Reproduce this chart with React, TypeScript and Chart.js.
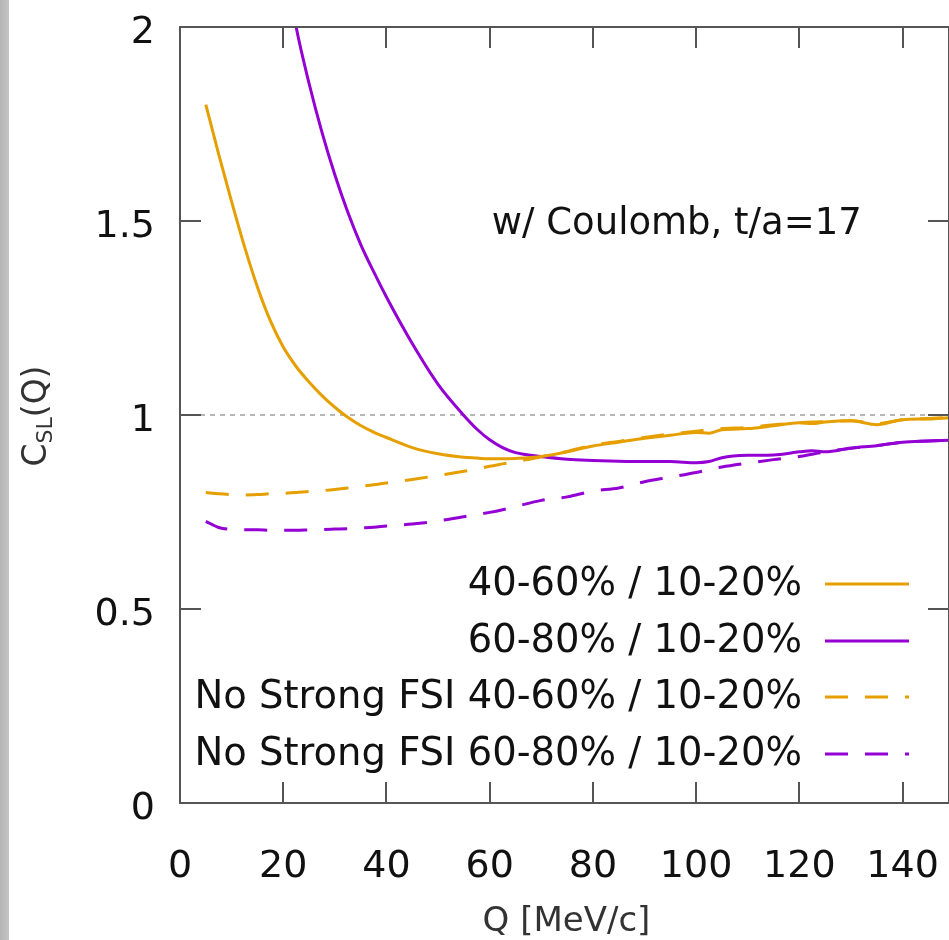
import React, { useEffect, useRef } from "react";
import { Chart, registerables } from "chart.js";

Chart.register(...registerables);

// ---- data ----
const Q = [5, 7.5, 10, 12.5, 15, 17.5, 20, 22.5, 25, 27.5, 30, 32.5, 35, 37.5, 40, 45, 50, 55, 57.5, 60, 62.5, 65, 70, 75, 80, 85, 90, 95, 100, 102.5, 105, 110, 115, 120, 122.5, 125, 130, 135, 140, 145, 149];

const C_40_60 = [1.80, 1.672, 1.55, 1.434, 1.33, 1.243, 1.175, 1.125, 1.085, 1.05, 1.02, 0.994, 0.973, 0.956, 0.942, 0.916, 0.900, 0.891, 0.889, 0.887, 0.887, 0.888, 0.893, 0.905, 0.920, 0.930, 0.940, 0.948, 0.955, 0.953, 0.962, 0.965, 0.972, 0.980, 0.978, 0.982, 0.985, 0.975, 0.988, 0.990, 0.993];

const C_60_80 = [4.6, 4.0, 3.5, 3.05, 2.68, 2.41, 2.19, 2.0, 1.855, 1.729, 1.619, 1.523, 1.44, 1.37, 1.304, 1.184, 1.079, 0.999, 0.964, 0.936, 0.916, 0.903, 0.893, 0.886, 0.883, 0.881, 0.880, 0.880, 0.877, 0.880, 0.890, 0.896, 0.897, 0.905, 0.908, 0.905, 0.915, 0.921, 0.930, 0.933, 0.935];

const NS_40_60 = [0.800, 0.797, 0.795, 0.794, 0.795, 0.797, 0.798, 0.800, 0.803, 0.805, 0.808, 0.812, 0.816, 0.820, 0.825, 0.834, 0.844, 0.855, 0.861, 0.868, 0.874, 0.880, 0.892, 0.906, 0.922, 0.932, 0.942, 0.951, 0.958, 0.962, 0.965, 0.968, 0.975, 0.980, 0.982, 0.983, 0.985, 0.978, 0.988, 0.991, 0.994];

const NS_60_80 = [0.726, 0.71, 0.705, 0.704, 0.704, 0.703, 0.703, 0.703, 0.704, 0.705, 0.706, 0.707, 0.709, 0.711, 0.714, 0.719, 0.727, 0.738, 0.743, 0.749, 0.756, 0.764, 0.780, 0.789, 0.804, 0.812, 0.828, 0.840, 0.852, 0.859, 0.866, 0.876, 0.885, 0.893, 0.899, 0.905, 0.914, 0.921, 0.930, 0.933, 0.935];

const LABELS = [
  "40-60% / 10-20%",
  "60-80% / 10-20%",
  "No Strong FSI 40-60% / 10-20%",
  "No Strong FSI 60-80% / 10-20%",
];

const X_TICKS = [0, 20, 40, 60, 80, 100, 120, 140];
const X_TICK_LABELS = ["0", "20", "40", "60", "80", "100", "120", "140"];
const Y_TICKS = [0, 0.5, 1, 1.5, 2];
const Y_TICK_LABELS = ["0", "0.5", "1", "1.5", "2"];
const ANNOTATION = "w/ Coulomb, t/a=17";
const X_TITLE = "Q [MeV/c]";

const ORANGE = "#e69f00";
const PURPLE = "#9400d3";
const FONT = "'DejaVu Sans', Verdana, sans-serif";
const DASH = [23, 17];

const toPoints = (ys: number[]) => Q.map((q, i) => ({ x: q, y: ys[i] }));

const overlay = {
  id: "overlay",
  beforeDatasetsDraw(chart: any) {
    const { ctx, chartArea: a, scales } = chart;
    const py = scales.y.getPixelForValue(1);
    ctx.save();
    ctx.strokeStyle = "#a0a0a0";
    ctx.lineWidth = 1.5;
    ctx.setLineDash([5, 5]);
    ctx.beginPath();
    ctx.moveTo(a.left, py);
    ctx.lineTo(a.right, py);
    ctx.stroke();
    ctx.restore();
  },
  afterDatasetsDraw(chart: any) {
    const { ctx, chartArea: a, scales } = chart;
    const xs = scales.x;
    const ys = scales.y;
    ctx.save();
    // border
    ctx.strokeStyle = "#555";
    ctx.lineWidth = 2;
    ctx.setLineDash([]);
    ctx.strokeRect(a.left, a.top, a.right - a.left, a.bottom - a.top);
    // inward ticks (mirrored)
    const TL = 21;
    ctx.beginPath();
    X_TICKS.forEach((v) => {
      const px = Math.round(xs.getPixelForValue(v));
      ctx.moveTo(px, a.bottom);
      ctx.lineTo(px, a.bottom - TL);
      ctx.moveTo(px, a.top);
      ctx.lineTo(px, a.top + TL);
    });
    Y_TICKS.forEach((v) => {
      const py = Math.round(ys.getPixelForValue(v));
      ctx.moveTo(a.left, py);
      ctx.lineTo(a.left + TL, py);
      ctx.moveTo(a.right, py);
      ctx.lineTo(a.right - TL, py);
    });
    ctx.stroke();

    // tick labels
    ctx.fillStyle = "#111";
    ctx.font = `38px ${FONT}`;
    ctx.textBaseline = "alphabetic";
    ctx.textAlign = "center";
    X_TICKS.forEach((v, i) => {
      ctx.fillText(X_TICK_LABELS[i], xs.getPixelForValue(v), a.bottom + 74);
    });
    ctx.textAlign = "right";
    Y_TICKS.forEach((v, i) => {
      ctx.fillText(Y_TICK_LABELS[i], a.left - 25, ys.getPixelForValue(v) + 16);
    });

    // annotation
    ctx.font = `37px ${FONT}`;
    ctx.textAlign = "left";
    ctx.textBaseline = "middle";
    ctx.fillText(ANNOTATION, xs.getPixelForValue(60.4), ys.getPixelForValue(1.49));

    // legend
    const styles = [
      { c: ORANGE, d: [] as number[] },
      { c: PURPLE, d: [] as number[] },
      { c: ORANGE, d: DASH },
      { c: PURPLE, d: DASH },
    ];
    const rowY = [a.bottom - 219, a.bottom - 162, a.bottom - 106, a.bottom - 49];
    ctx.font = `38.5px ${FONT}`;
    ctx.textAlign = "right";
    LABELS.forEach((lab, i) => {
      ctx.fillStyle = "#111";
      ctx.fillText(lab, a.right - 147, rowY[i] + 1);
      ctx.strokeStyle = styles[i].c;
      ctx.lineWidth = 3;
      ctx.setLineDash(styles[i].d);
      ctx.beginPath();
      ctx.moveTo(a.right - 124, rowY[i]);
      ctx.lineTo(a.right - 40, rowY[i]);
      ctx.stroke();
    });
    ctx.setLineDash([]);

    // y title: C_SL(Q)
    ctx.save();
    ctx.translate(34, 416);
    ctx.rotate(-Math.PI / 2);
    ctx.fillStyle = "#333";
    ctx.textAlign = "left";
    ctx.textBaseline = "alphabetic";
    const big = `33px ${FONT}`;
    const small = `22px ${FONT}`;
    ctx.font = big;
    const wC = ctx.measureText("C").width;
    const wQ = ctx.measureText("(Q)").width;
    ctx.font = small;
    const wS = ctx.measureText("SL").width;
    const total = wC + wS + wQ;
    let x0 = -total / 2;
    const base = 12;
    ctx.font = big;
    ctx.fillText("C", x0, base);
    x0 += wC;
    ctx.font = small;
    ctx.fillText("SL", x0, base + 6);
    x0 += wS;
    ctx.font = big;
    ctx.fillText("(Q)", x0, base);
    ctx.restore();

    // x title
    ctx.fillStyle = "#333";
    ctx.font = `34px ${FONT}`;
    ctx.textAlign = "center";
    ctx.textBaseline = "alphabetic";
    ctx.fillText(X_TITLE, (a.left + a.right) / 2 + 2, a.bottom + 128);
    ctx.restore();
  },
};

export default function App() {
  const ref = useRef<HTMLCanvasElement | null>(null);
  useEffect(() => {
    if (!ref.current) return;
    const chart = new Chart(ref.current, {
      type: "line",
      data: {
        datasets: [
          { label: LABELS[0], data: toPoints(C_40_60), borderColor: ORANGE, borderWidth: 3, pointRadius: 0, cubicInterpolationMode: "monotone", fill: false },
          { label: LABELS[1], data: toPoints(C_60_80), borderColor: PURPLE, borderWidth: 3, pointRadius: 0, cubicInterpolationMode: "monotone", fill: false },
          { label: LABELS[2], data: toPoints(NS_40_60), borderColor: ORANGE, borderWidth: 3, borderDash: DASH, pointRadius: 0, cubicInterpolationMode: "monotone", fill: false },
          { label: LABELS[3], data: toPoints(NS_60_80), borderColor: PURPLE, borderWidth: 3, borderDash: DASH, pointRadius: 0, cubicInterpolationMode: "monotone", fill: false },
        ],
      } as any,
      options: {
        animation: false,
        responsive: false,
        devicePixelRatio: 1,
        layout: { padding: { top: 27, right: 0, left: 0, bottom: 0 } },
        plugins: { legend: { display: false }, tooltip: { enabled: false } },
        events: [],
        scales: {
          x: {
            type: "linear",
            min: 0,
            max: 149,
            grid: { display: false, drawTicks: false },
            border: { display: false },
            ticks: { display: false },
            afterFit: (s: any) => { s.height = 137; },
          },
          y: {
            type: "linear",
            min: 0,
            max: 2,
            grid: { display: false, drawTicks: false },
            border: { display: false },
            ticks: { display: false },
            afterFit: (s: any) => { s.width = 180; },
          },
        },
      } as any,
      plugins: [overlay],
    });
    return () => chart.destroy();
  }, []);
  return (
    <div style={{ position: "fixed", left: 0, top: 0, width: 949, height: 940, background: "#fff", overflow: "hidden" }}>
      <div style={{ position: "absolute", left: 0, top: 0, width: 9, height: 940, background: "linear-gradient(to right, #b4b4b4, #c4c4c4)" }} />
      <canvas ref={ref} width={949} height={940} style={{ position: "absolute", left: 0, top: 0 }} />
    </div>
  );
}
